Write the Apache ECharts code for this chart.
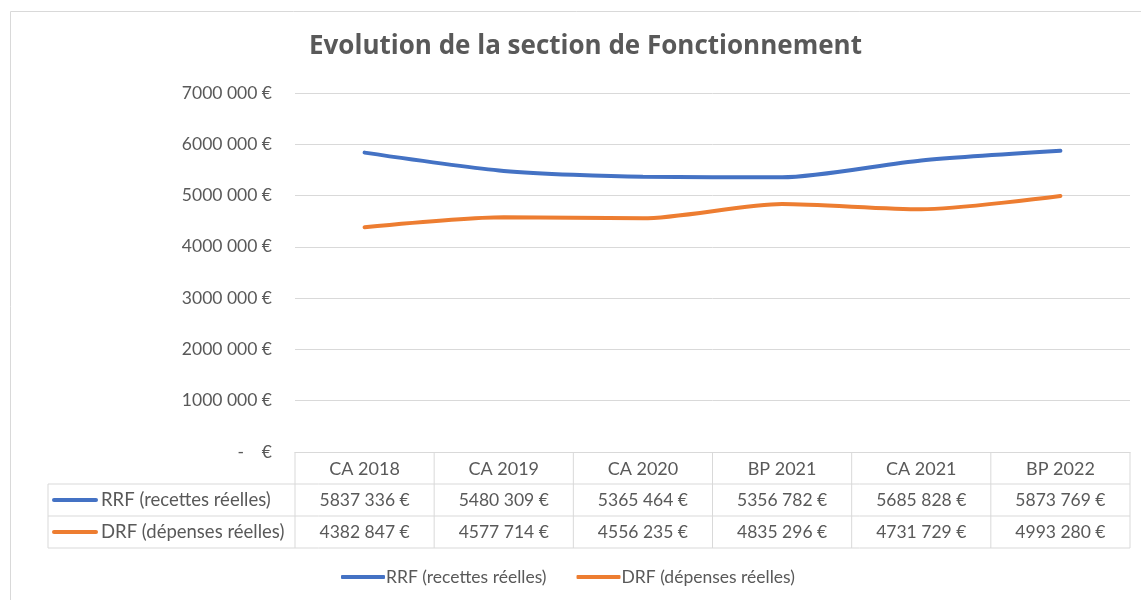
<!DOCTYPE html>
<html>
<head>
<meta charset="utf-8">
<script src="https://cdn.jsdelivr.net/npm/echarts@6/dist/echarts.min.js"></script>
<style>
  html, body { margin: 0; padding: 0; background: #fff; }
  #chart { width: 1141px; height: 600px; }
</style>
</head>
<body>
<div id="chart"></div>
<script>
// data
var categories = ['CA 2018', 'CA 2019', 'CA 2020', 'BP 2021', 'CA 2021', 'BP 2022'];
var rrf = [5837336, 5480309, 5365464, 5356782, 5685828, 5873769];
var drf = [4382847, 4577714, 4556235, 4835296, 4731729, 4993280];
var seriesNames = ['RRF (recettes réelles)', 'DRF (dépenses réelles)'];
var colors = ['#4472C4', '#ED7D31'];

var FONT = 'Lato, "Open Sans", sans-serif';
var GREY = '#595959';
var LINE = '#d9d9d9';

// "5837336" -> "5837 336 €"
function euro(v) {
	if (v === 0) return '-    €';
	var s = String(Math.round(v));
	return s.slice(0, s.length - 3) + ' ' + s.slice(-3) + ' €';
}

var chart = echarts.init(document.getElementById('chart'));
chart.setOption({
	animation: false,
	title: {
		text: 'Evolution de la section de Fonctionnement',
		left: 304,
		top: 29,
		textStyle: { fontFamily: '"Open Sans", sans-serif', fontSize: 26, fontWeight: 'bold', color: GREY }
	},
	legend: {
		bottom: 9,
		left: 336,
		itemGap: 30,
		itemWidth: 44,
		itemHeight: 4,
		icon: 'roundRect',
		textStyle: { fontFamily: FONT, fontSize: 17.5, color: GREY, padding: [0, 0, 0, -4] },
		data: seriesNames
	},
	grid: { left: 295, right: 11, top: 93, bottom: 148, containLabel: false },
	xAxis: {
		type: 'category',
		data: categories,
		boundaryGap: true,
		axisLine: { lineStyle: { color: LINE } },
		axisTick: { show: false },
		axisLabel: { margin: 8, fontFamily: FONT, fontSize: 18, color: GREY }
	},
	yAxis: {
		type: 'value',
		min: 0,
		max: 7000000,
		interval: 1000000,
		axisLine: { show: false },
		axisTick: { show: false },
		splitLine: { lineStyle: { color: LINE, width: 1 } },
		axisLabel: {
			margin: 23,
			fontFamily: FONT, fontSize: 17.5, color: GREY,
			formatter: euro
		}
	},
	series: [
		{
			name: seriesNames[0], type: 'line', data: rrf, smooth: 0.25,
			showSymbol: false, color: colors[0],
			lineStyle: { width: 4, color: colors[0], cap: 'round' }
		},
		{
			name: seriesNames[1], type: 'line', data: drf, smooth: 0.25,
			showSymbol: false, color: colors[1],
			lineStyle: { width: 4, color: colors[1], cap: 'round' }
		}
	]
});

// data table under the axis
var xs = categories.map(function (c, i) { return chart.convertToPixel({ xAxisIndex: 0 }, i); });
var y0 = chart.convertToPixel({ yAxisIndex: 0 }, 0);
var colW = xs[1] - xs[0];
var left = xs[0] - colW / 2;
var right = xs[xs.length - 1] + colW / 2;
var rowH = 32;
var labelLeft = 48;
var els = [];

// frame of whole chart
els.push({ type: 'rect', shape: { x: 10.5, y: 11.5, width: 1140, height: 600 }, style: { fill: null, stroke: LINE, lineWidth: 1 }, silent: true });

// horizontal lines
for (var h = 1; h <= 3; h++) {
	els.push({ type: 'line', shape: { x1: labelLeft, y1: y0 + rowH * h, x2: right, y2: y0 + rowH * h }, style: { stroke: LINE, lineWidth: 1 } });
}
// vertical lines
els.push({ type: 'line', shape: { x1: labelLeft, y1: y0 + rowH, x2: labelLeft, y2: y0 + rowH * 3 }, style: { stroke: LINE, lineWidth: 1 } });
for (var k = 0; k <= categories.length; k++) {
	var vx = left + k * colW;
	els.push({ type: 'line', shape: { x1: vx, y1: y0, x2: vx, y2: y0 + rowH * 3 }, style: { stroke: LINE, lineWidth: 1 } });
}

[rrf, drf].forEach(function (vals, r) {
	var cy = y0 + rowH * (r + 1) + rowH / 2;
	els.push({ type: 'line', shape: { x1: 54, y1: cy, x2: 96, y2: cy }, style: { stroke: colors[r], lineWidth: 4, lineCap: 'round' } });
	els.push({ type: 'text', x: 101, y: cy, style: { text: seriesNames[r], fontFamily: FONT, fontSize: 18.5, fill: GREY, verticalAlign: 'middle', align: 'left' } });
	vals.forEach(function (v, i) {
		els.push({ type: 'text', x: xs[i], y: cy, style: { text: euro(v), fontFamily: FONT, fontSize: 17.5, fill: GREY, verticalAlign: 'middle', align: 'center' } });
	});
});

chart.setOption({ graphic: els });
</script>
</body>
</html>
